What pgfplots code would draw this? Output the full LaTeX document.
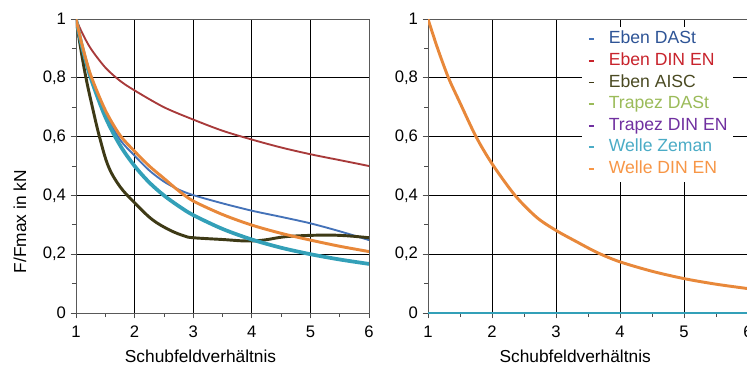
\documentclass[border=0pt]{standalone}
\usepackage{fontspec}
\setmainfont{Liberation Sans}
\usepackage{pgfplots}
\pgfplotsset{compat=1.18}
\definecolor{cBlue}{HTML}{4472B8}
\definecolor{cBlueT}{HTML}{2E5496}
\definecolor{cRed}{HTML}{A83A3A}
\definecolor{cRedT}{HTML}{C8232C}
\definecolor{cOlive}{HTML}{3E3A16}
\definecolor{cOliveT}{HTML}{4A4A22}
\definecolor{cGreen}{HTML}{9BBB59}
\definecolor{cPurple}{HTML}{7030A0}
\definecolor{cTeal}{HTML}{33A0B8}
\definecolor{cTealT}{HTML}{4BACC6}
\definecolor{cOrange}{HTML}{E8883A}
\definecolor{cOrangeT}{HTML}{F79646}
\newcommand{\lf}{\fontsize{13.2}{15}\selectfont}
\pgfplotsset{
  myax/.style={
    scale only axis, height=220.5pt,
    xmin=1, xmax=6, ymin=0, ymax=1,
    xtick={1,2,3,4,5,6}, minor xtick={1.5,2.5,3.5,4.5,5.5},
    ytick={0,0.2,0.4,0.6,0.8,1},
    yticklabels={0,{0,2},{0,4},{0,6},{0,8},1},
    minor ytick={0.1,0.3,0.5,0.7,0.9},
    tick align=outside, tick pos=left,
    major tick length=4pt, minor tick length=3pt,
    grid=major, grid style={black, line width=0.5pt},
    axis line style={black!65, line width=0.6pt},
    tick style={black!70, line width=0.5pt},
    ticklabel style={font=\fontsize{12.5}{14}\selectfont},
    xticklabel style={yshift=-2pt},
    /pgf/number format/assume math mode=true,
    xlabel={Schubfeldverhältnis},
  }
}
\begin{document}
\begin{tikzpicture}
\begin{axis}[myax, width=219.75pt, at={(0pt,0pt)}, anchor=south west,
  xlabel style={font=\fontsize{13}{15}\selectfont, at={(axis description cs:0.425,-0.17)}, anchor=base},
  ylabel={F/Fmax in kN},
  ylabel style={font=\fontsize{13}{15}\selectfont, at={(axis description cs:-0.191,0.31)}, anchor=center},
]
\addplot[cRed, line width=1.4pt, smooth] coordinates {
(1,1) (1.1,0.955) (1.25,0.9) (1.5,0.835) (1.75,0.79) (2,0.757) (2.5,0.70) (3,0.658)
(3.5,0.62) (4,0.59) (4.5,0.563) (5,0.54) (5.5,0.52) (6,0.50)};
\addplot[cBlue, line width=1.4pt, smooth] coordinates {
(1,1) (1.1,0.91) (1.25,0.805) (1.5,0.68) (1.75,0.59) (2,0.535) (2.25,0.485) (2.5,0.447)
(2.75,0.42) (3,0.401) (3.5,0.373) (4,0.348) (4.5,0.327) (5,0.305) (5.5,0.278) (6,0.248)};
\addplot[cOlive, line width=2.2pt, smooth, tension=0.6] coordinates {
(1,1) (1.08,0.9) (1.17,0.8) (1.28,0.7) (1.4,0.6) (1.55,0.5) (1.75,0.43) (2,0.375)
(2.3,0.318) (2.6,0.282) (2.85,0.262) (3,0.256) (3.5,0.25) (3.9,0.245) (4.2,0.248)
(4.6,0.26) (5.2,0.265) (5.6,0.263) (6,0.256)};
\addplot[cTeal, line width=2.8pt, smooth] coordinates {
(1,1) (1.1,0.909) (1.25,0.8) (1.5,0.667) (1.75,0.571) (2,0.5) (2.25,0.444) (2.5,0.4)
(2.75,0.364) (3,0.333) (3.5,0.286) (4,0.25) (4.5,0.222) (5,0.2) (5.5,0.182) (6,0.167)};
\addplot[cOrange, line width=2.2pt, smooth] coordinates {
(1,1) (1.1,0.915) (1.25,0.81) (1.5,0.69) (1.75,0.605) (2,0.55) (2.25,0.5) (2.5,0.458)
(2.75,0.416) (3,0.381) (3.5,0.335) (4,0.299) (4.5,0.271) (5,0.248) (5.5,0.227) (6,0.209)};
\end{axis}
\begin{axis}[myax, width=240pt, at={(264pt,0pt)}, anchor=south west,
  xlabel style={font=\fontsize{13}{15}\selectfont, at={(axis description cs:0.46,-0.17)}, anchor=base},
  legend style={at={(axis description cs:0.481,0.975)}, anchor=north west,
    fill=white, draw=none,
    row sep=1.1pt, inner sep=2pt,
    nodes={font=\lf, inner ysep=1.2pt, inner xsep=2pt, text height=9.7pt, text depth=3pt}},
  legend cell align=left,
  legend image code/.code={\path[draw=none,fill=none] (-3pt,0pt) -- (13pt,0pt); \draw[#1, mark=none, line width=1.3pt] (0pt,0pt) -- (3.5pt,0pt);},
]
\addlegendimage{cBlue, mark=none}
\addlegendentry{\lf\textcolor{cBlueT}{Eben DASt}}
\addlegendimage{cRedT, mark=none}
\addlegendentry{\lf\textcolor{cRedT}{Eben DIN EN}}
\addlegendimage{cOlive, mark=none}
\addlegendentry{\lf\textcolor{cOliveT}{Eben AISC}}
\addlegendimage{cGreen, mark=none}
\addlegendentry{\lf\textcolor{cGreen}{Trapez DASt}}
\addlegendimage{cPurple, mark=none}
\addlegendentry{\lf\textcolor{cPurple}{Trapez DIN EN}}
\addlegendimage{cTealT, mark=none}
\addlegendentry{\lf\textcolor{cTealT}{Welle Zeman}}
\addlegendimage{cOrangeT, mark=none}
\addlegendentry{\lf\textcolor{cOrangeT}{Welle DIN EN}}
\addplot[cTeal, line width=2.2pt, forget plot] coordinates {(1,0) (2,0) (3,0) (4,0) (5,0) (6,0)};
\addplot[cOrange, line width=2.2pt, smooth, forget plot] coordinates {
(1,1) (1.15,0.9) (1.32,0.8) (1.5,0.715) (1.75,0.6) (2,0.508) (2.36,0.4) (2.7,0.325)
(3,0.281) (3.3,0.245) (3.65,0.205) (4,0.174) (4.5,0.142) (5,0.117) (5.5,0.098) (6,0.083)};
\end{axis}
\pgfresetboundingbox
\useasboundingbox (-57pt,-39pt) rectangle (503.25pt,234.75pt);
\end{tikzpicture}
\end{document}
